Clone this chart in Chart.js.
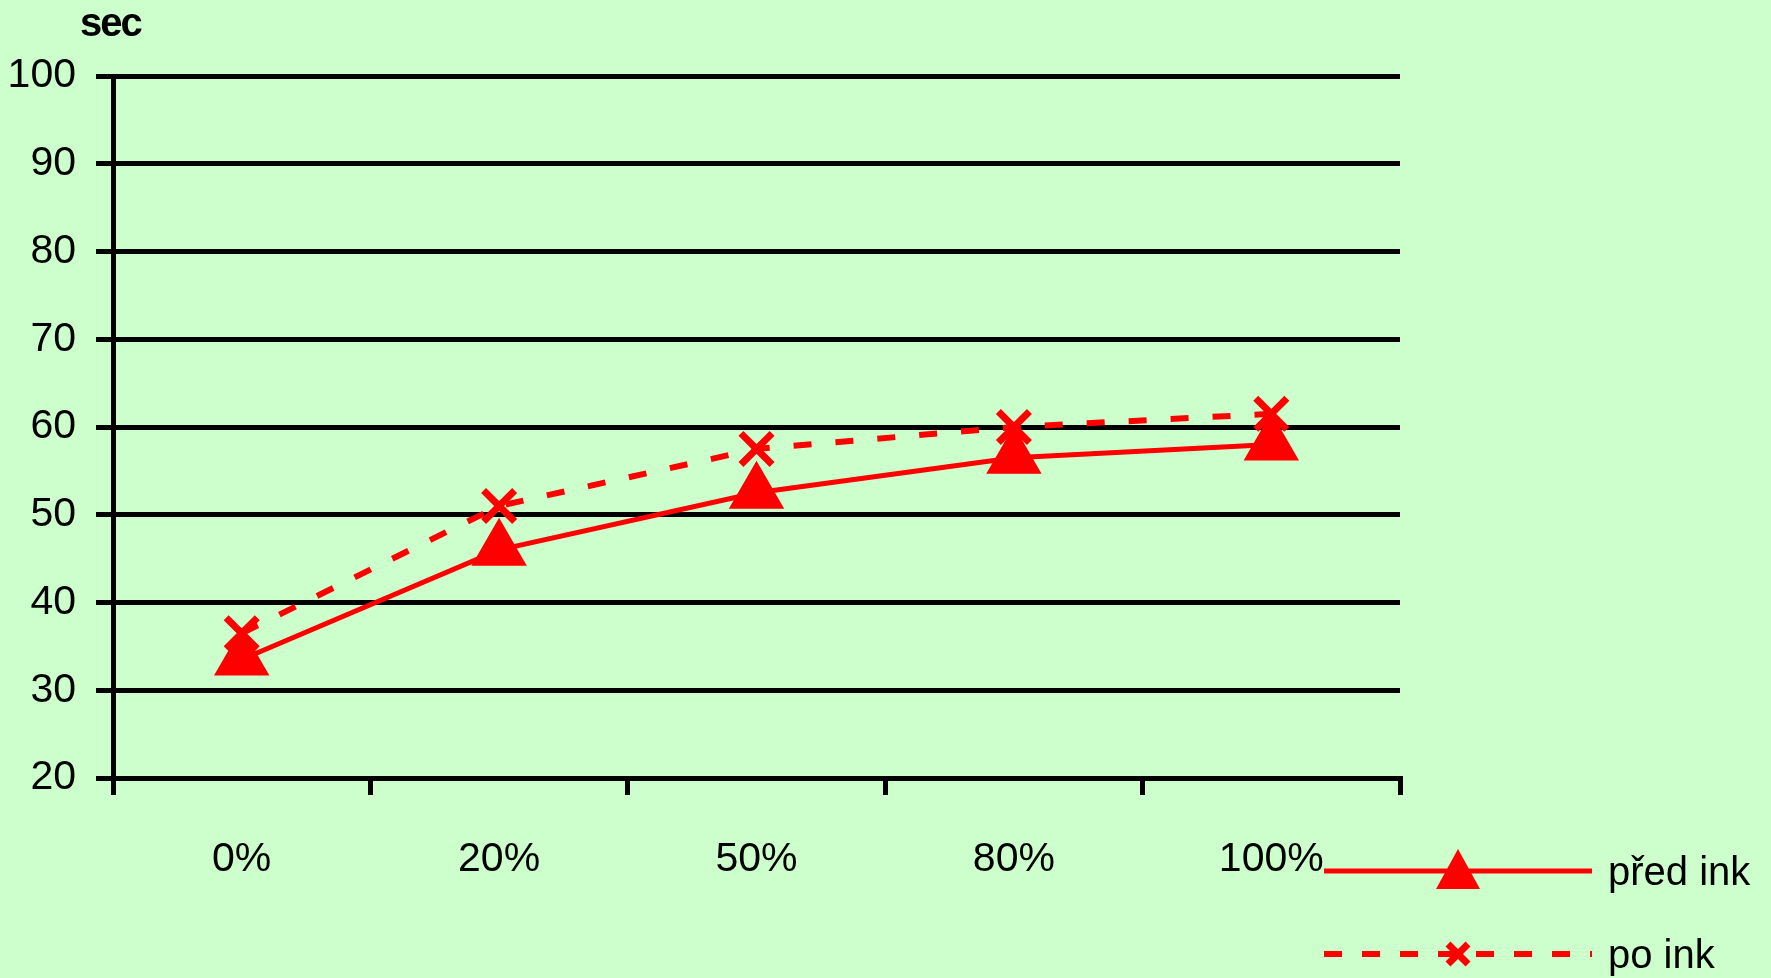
<!DOCTYPE html>
<html><head><meta charset="utf-8">
<script src="https://cdn.jsdelivr.net/npm/chart.js@4"></script>
<style>
body{margin:0;background:#ccffcc;font-family:"Liberation Sans",Arial,sans-serif;}
#wrap{position:relative;width:1771px;height:978px;}
#sec{position:absolute;left:80px;top:0px;font-weight:bold;font-size:40px;letter-spacing:-2px;}
.lg{position:absolute;left:1322px;font-size:40px;display:flex;align-items:center;}
.lg span{margin-left:14px;}
</style></head><body>
<div id="wrap">
<canvas id="c" width="1771" height="978"></canvas>
<div id="sec">sec</div>
<div class="lg" style="top:846px"><svg width="272" height="50"><line x1="2" y1="25" x2="270" y2="25" stroke="#ff0000" stroke-width="5"/><polygon points="136,3 114,43 158,43" fill="#ff0000"/></svg><span>před ink</span></div>
<div class="lg" style="top:929px"><svg width="272" height="50"><line x1="2" y1="25" x2="270" y2="25" stroke="#ff0000" stroke-width="6" stroke-dasharray="18,20"/><path d="M126,15 L146,35 M146,15 L126,35" stroke="#ff0000" stroke-width="7"/></svg><span>po ink</span></div>
</div>
<script>
var labels = ['0%', '20%', '50%', '80%', '100%'];
var predInk = [33.5, 46, 52.5, 56.5, 58];
var poInk = [36.5, 51, 57.5, 60, 61.5];
var yTicks = [20, 30, 40, 50, 60, 70, 80, 90, 100];

var ctx = document.querySelector('#c').getContext('2d');
var chart = new Chart(ctx, {
    type: 'line',
    data: {
        labels: labels,
        datasets: [{
            label: 'po ink',
            data: poInk,
            borderColor: '#ff0000',
            backgroundColor: '#ff0000',
            borderWidth: 6,
            borderDash: [18, 24],
            pointStyle: 'crossRot',
            pointRadius: 22,
            pointBorderWidth: 7
        }, {
            label: 'před ink',
            data: predInk,
            borderColor: '#ff0000',
            backgroundColor: '#ff0000',
            borderWidth: 5,
            pointStyle: 'triangle',
            pointRadius: 27
        }]
    },
    options: {
        responsive: false,
        animation: false,
        layout: {padding: {top: 76, right: 371, left: 0, bottom: 0}},
        plugins: {legend: {display: false}, tooltip: {enabled: false}},
        scales: {
            x: {
                offset: true,
                grid: {offset: true, drawOnChartArea: false, color: '#000', lineWidth: 5, tickLength: 17},
                border: {color: '#000', width: 5},
                ticks: {color: '#000', font: {size: 41, family: 'Liberation Sans'}, padding: 40},
                afterFit: function(s) { s.height = 200; }
            },
            y: {
                min: 20, max: 100,
                afterBuildTicks: function(s) { s.ticks = yTicks.map(function(v){ return {value: v}; }); },
                grid: {color: '#000', lineWidth: 5, tickLength: 17},
                border: {color: '#000', width: 5},
                ticks: {color: '#000', font: {size: 41, family: 'Liberation Sans'}, padding: 20},
                afterFit: function(s) { s.width = 113; }
            }
        }
    }
});
</script>
</body></html>
